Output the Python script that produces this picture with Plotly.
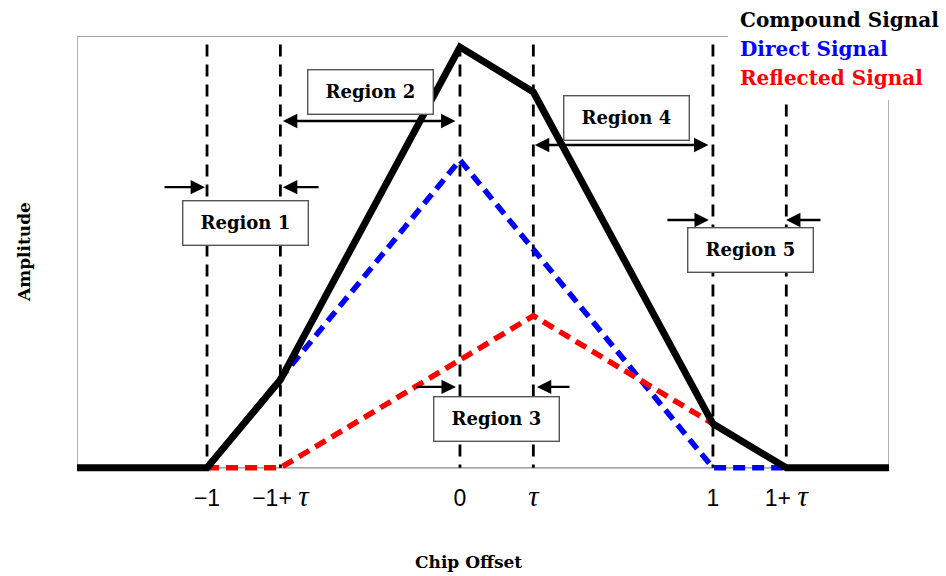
import plotly.graph_objects as go

# ---- data ----
tau = 0.29
tick_vals = [-1, -1 + tau, 0, tau, 1, 1 + tau]
TAU_HTML = "<span style='font-family:Liberation Serif;font-size:29px'><i>τ</i></span>"
tick_text = ["−1", "−1+ " + TAU_HTML, "0", TAU_HTML, "1", "1+ " + TAU_HTML]

compound_x = [-1.514, -1, -1 + tau, 0, tau, 1, 1 + tau, 1.696]
compound_y = [0, 0, 0.286, 1.367, 1.221, 0.143, 0, 0]

direct_x = [-1, 0, 1, 1 + tau]
direct_y = [0, 1.0, 0, 0]

reflected_x = [-1, -1 + tau, tau, 1 + tau]
reflected_y = [0, 0, 0.494, 0]

legend_names = ["Compound Signal", "Direct Signal", "Reflected Signal"]
legend_colors = ["black", "#0000ff", "#ff0000"]

region_labels = ["Region 1", "Region 2", "Region 3", "Region 4", "Region 5"]

XMIN, XMAX, YMIN, YMAX = -1.514, 1.696, -0.02, 1.403
VTOP = 1.375
SERIF = "DejaVu Serif"

# plot area geometry (pixels)
TOP, BOTTOM = 36, 102
PLOT_BOTTOM_PX = 576 - BOTTOM
PLOT_H = 576 - TOP - BOTTOM


def py_to_paper(py):
    return (PLOT_BOTTOM_PX - py) / PLOT_H


fig = go.Figure()

# vertical dashed guide lines at each tick position
vx, vy = [], []
for v in tick_vals:
    vx += [v, v, None]
    vy += [VTOP, 0, None]
fig.add_trace(go.Scatter(x=vx, y=vy, mode="lines",
                         line=dict(color="black", width=2.8, dash="12px,8px"),
                         hoverinfo="skip", showlegend=False))

fig.add_trace(go.Scatter(x=direct_x, y=direct_y, mode="lines",
                         line=dict(color="#0000ff", width=5.5, dash="12px,7px"),
                         showlegend=False))
fig.add_trace(go.Scatter(x=reflected_x, y=reflected_y, mode="lines",
                         line=dict(color="#ff0000", width=5.5, dash="12px,7px"),
                         showlegend=False))
fig.add_trace(go.Scatter(x=compound_x, y=compound_y, mode="lines", cliponaxis=False,
                         line=dict(color="black", width=7),
                         showlegend=False))

annotations = []

# region label boxes (center x, center y in data units)
box_pos = [(-0.846, 0.794), (-0.354, 1.222), (0.146, 0.159), (0.658, 1.138), (1.150, 0.708)]
for lab, (bx, by) in zip(region_labels, box_pos):
    annotations.append(dict(x=bx, y=by, xref="x", yref="y", text=f"<b>{lab}</b>",
                            showarrow=False, width=124, height=43, bgcolor="white",
                            bordercolor="#555", borderwidth=1.4, borderpad=0,
                            font=dict(family=SERIF, size=18, color="black"),
                            xanchor="center", yanchor="middle"))

# arrows: (head x, head y, tail x, tail y, double)
arrows = [
    (-0.700, 1.127, -0.012, 1.127, True),
    (0.296, 1.049, 0.988, 1.049, True),
    (-1.008, 0.912, -1.174, 0.912, False),
    (-0.700, 0.912, -0.553, 0.912, False),
    (0.984, 0.805, 0.814, 0.805, False),
    (1.289, 0.805, 1.431, 0.805, False),
    (-0.016, 0.263, -0.178, 0.263, False),
    (0.304, 0.263, 0.439, 0.263, False),
]
for hx, hy, tx, ty, dbl in arrows:
    annotations.append(dict(x=hx, y=hy, ax=tx, ay=ty, xref="x", yref="y",
                            axref="x", ayref="y", text="", showarrow=True,
                            arrowhead=2, startarrowhead=2, arrowsize=1.2, startarrowsize=1.2,
                            arrowwidth=2.4, arrowcolor="black",
                            arrowside="end+start" if dbl else "end"))

# legend text
for i, (nm, col) in enumerate(zip(legend_names, legend_colors)):
    annotations.append(dict(x=(738 - 77) / 812, y=py_to_paper(20 + 29 * i),
                            xref="paper", yref="paper",
                            text=f"<b>{nm}</b>", showarrow=False, xanchor="left",
                            yanchor="middle", font=dict(family=SERIF, size=20, color=col)))

# axis titles
annotations.append(dict(x=(468 - 77) / 812, y=py_to_paper(562), xref="paper", yref="paper",
                        text="<b>Chip Offset</b>", showarrow=False, xanchor="center",
                        yanchor="middle", font=dict(family=SERIF, size=17, color="black")))
annotations.append(dict(x=-(77 - 24) / 812, y=py_to_paper(252), xref="paper", yref="paper",
                        text="<b>Amplitude</b>", showarrow=False, textangle=-90,
                        xanchor="center", yanchor="middle",
                        font=dict(family=SERIF, size=17, color="black")))

fig.update_layout(
    width=946, height=576,
    margin=dict(l=77, r=57, t=TOP, b=BOTTOM),
    paper_bgcolor="white", plot_bgcolor="white",
    annotations=annotations,
    shapes=[
        # plot frame (baseline at y=0)
        dict(type="rect", xref="x", yref="y", x0=XMIN, x1=XMAX, y0=0, y1=YMAX,
             line=dict(color="#888", width=1.3), fillcolor="rgba(0,0,0,0)", layer="below"),
        # white background behind the legend text
        dict(type="rect", xref="paper", yref="paper", x0=(728 - 77) / 812, x1=1.1,
             y0=py_to_paper(100), y1=1.12, fillcolor="white",
             line=dict(width=0), layer="above"),
    ],
    xaxis=dict(range=[XMIN, XMAX], showgrid=False, zeroline=False, showline=False,
               tickvals=tick_vals, ticktext=tick_text, ticks="outside", ticklen=3,
               tickcolor="rgba(0,0,0,0)",
               tickfont=dict(family="Liberation Sans", size=23, color="black")),
    yaxis=dict(range=[YMIN, YMAX], showgrid=False, zeroline=False, showticklabels=False,
               showline=False),
)

fig.write_html("out.html")
